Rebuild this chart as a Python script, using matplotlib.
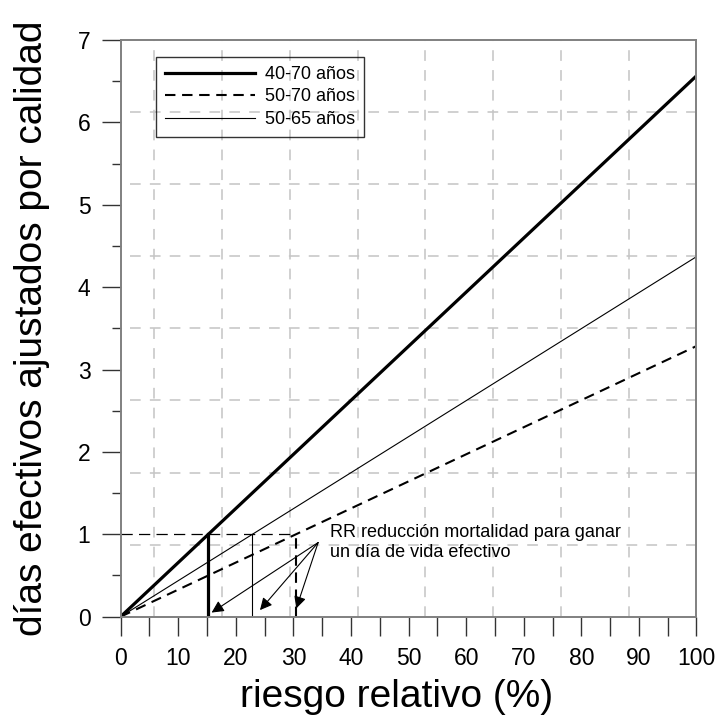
import matplotlib
matplotlib.use("Agg")
import matplotlib.pyplot as plt

plt.rcParams['font.family'] = ['Liberation Sans', 'DejaVu Sans']

# datos
grupos = ["40-70 años", "50-70 años", "50-65 años"]
rr = [0, 100]
dias_40_70 = [0, 6.565]
dias_50_70 = [0, 3.285]
dias_50_65 = [0, 4.37]
rr_un_dia = [15.2, 30.4, 22.9]   # RR para ganar 1 dia
flechas_fin = [(15.8, 0.05), (24.2, 0.08), (30.5, 0.10)]
flechas_ini = (34.3, 0.90)
grid_x = [5.88, 17.65, 29.41, 41.18, 52.94, 64.71, 76.47, 88.24]
grid_y = [0.875, 1.75, 2.625, 3.5, 4.375, 5.25, 6.125]

fig = plt.figure(figsize=(7.18, 7.25), dpi=100)
ax = fig.add_axes([0.168, 0.1494, 0.802, 0.7954])

for gx in grid_x:
    ax.axvline(gx, color="#c4c4c4", lw=1.1, ls=(0, (7, 6)), zorder=0)
for gy in grid_y:
    ax.axhline(gy, xmin=0.016, color="#c4c4c4", lw=1.1, ls=(0, (7, 6)), zorder=0)

estilos = [dict(lw=2.3, ls="-"), dict(lw=1.5, ls=(0, (5, 3.2))), dict(lw=0.8, ls="-")]
series = [dias_40_70, dias_50_70, dias_50_65]
for g, y, st in zip(grupos, series, estilos):
    ax.plot(rr, y, color="black", label=g, **st)

# lineas verticales hasta un dia
ax.plot([0, rr_un_dia[1]], [1, 1], color="black", lw=0.9, ls=(0, (9, 5)))
for xv, st in zip(rr_un_dia, estilos):
    ax.plot([xv, xv], [0, 1], color="black", **st)

for fin in flechas_fin:
    ax.annotate("", xy=fin, xytext=flechas_ini,
                arrowprops=dict(arrowstyle="-|>", color="black", lw=0.8,
                                mutation_scale=18, shrinkA=0, shrinkB=0))

ax.text(36.3, 0.963, "RR reducción mortalidad para ganar", fontsize=13, va="baseline")
ax.text(36.3, 0.728, "un día de vida efectivo", fontsize=13, va="baseline")

ax.set_xlim(0, 100)
ax.set_ylim(0, 7)
ax.set_xticks(range(0, 101, 10))
ax.set_xticks(range(0, 101, 5), minor=True)
ax.set_yticks(range(0, 8))
ax.set_yticks([i + 0.5 for i in range(7)], minor=True)
ax.tick_params(axis="x", which="both", direction="out", length=13.7, width=1, pad=8,
               labelsize=16.5, color="#333333")
ax.tick_params(axis="y", which="major", direction="out", length=13.7, width=1, pad=8,
               labelsize=16.5, color="#333333")
ax.tick_params(axis="y", which="minor", direction="out", length=6.5, width=1, color="#333333")
for s in ax.spines.values():
    s.set_color("#808080")
    s.set_linewidth(1.4)

ax.set_xlabel("riesgo relativo (%)", fontsize=28)
ax.xaxis.set_label_coords(0.479, -0.108)
ax.set_ylabel("días efectivos ajustados por calidad", fontsize=28, labelpad=20)

leg = ax.legend(loc="upper left", bbox_to_anchor=(0.061, 0.9705), fontsize=13,
                handlelength=5.0, fancybox=False, edgecolor="black",
                borderpad=0.5, labelspacing=0.3, handletextpad=0.55,
                borderaxespad=0)
leg.get_frame().set_facecolor("none")
leg.get_frame().set_linewidth(1.0)

fig.savefig("out.png", dpi=100)
